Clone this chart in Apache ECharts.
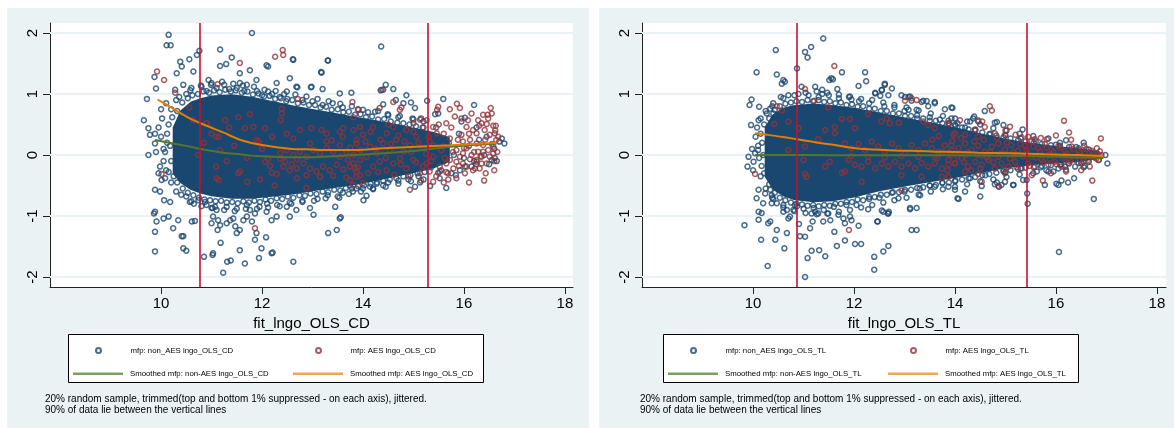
<!DOCTYPE html>
<html><head><meta charset="utf-8">
<script src="https://cdn.jsdelivr.net/npm/echarts@6/dist/echarts.min.js"></script>
<style>html,body{margin:0;padding:0;background:#fff}#c{width:1174px;height:428px}</style>
</head><body><div id="c"></div>
<script>
// ---------- tick labels / names ----------
const xTicks = [10, 12, 14, 16, 18];
const yTicks = [-2, -1, 0, 1, 2];
const cdTitle = 'fit_lngo_OLS_CD';
const tlTitle = 'fit_lngo_OLS_TL';
const cdNames = ['mfp: non_AES lngo_OLS_CD', 'mfp: AES lngo_OLS_CD', 'Smoothed mfp: non-AES lngo_OLS_CD', 'Smoothed mfp: AES lngo_OLS_CD'];
const tlNames = ['mfp: non_AES lngo_OLS_TL', 'mfp: AES lngo_OLS_TL', 'Smoothed mfp: non-AES lngo_OLS_TL', 'Smoothed mfp: AES lngo_OLS_TL'];
const noteLines = ['20% random sample, trimmed(top and bottom 1% suppressed - on each axis), jittered.', '90% of data lie between the vertical lines'];

// ---------- vertical lines (5th / 95th pct) ----------
const cdVLines = [10.77, 15.29];
const tlVLines = [10.87, 15.43];

// ---------- dense core of non-AES cloud (upper / lower edge) ----------
const cdCoreX  = [10.25, 10.4, 10.6, 10.8, 11.0, 11.4, 11.8, 12.2, 12.6, 13.0, 13.4, 13.8, 14.2, 14.6, 15.0, 15.4, 15.7];
const cdCoreHi = [0.45, 0.72, 0.86, 0.92, 0.96, 0.98, 0.94, 0.87, 0.8, 0.74, 0.68, 0.62, 0.56, 0.5, 0.43, 0.36, 0.28];
const cdCoreLo = [-0.3, -0.45, -0.56, -0.62, -0.66, -0.7, -0.7, -0.67, -0.63, -0.58, -0.53, -0.48, -0.42, -0.35, -0.28, -0.2, -0.1];
const tlCoreX  = [10.25, 10.4, 10.6, 10.8, 11.2, 11.6, 12.0, 12.5, 13.0, 13.5, 14.0, 14.5, 15.0, 15.5, 16.0, 16.5, 16.85];
const tlCoreHi = [0.45, 0.65, 0.76, 0.8, 0.83, 0.8, 0.76, 0.68, 0.6, 0.52, 0.44, 0.34, 0.25, 0.18, 0.13, 0.09, 0.05];
const tlCoreLo = [-0.35, -0.55, -0.66, -0.72, -0.76, -0.74, -0.68, -0.58, -0.5, -0.43, -0.36, -0.28, -0.2, -0.15, -0.12, -0.09, -0.05];

// ---------- CD panel: non-AES points ----------
const cdNonAES = [
[10.15,1.97],[10.11,1.8],[10.19,1.8],[10.76,1.71],[10.71,1.64],[11.17,1.73],[11.8,2.0],[10.56,1.57],[10.38,1.53],[10.41,1.45],[10.64,1.37],[10.31,1.34],[9.87,1.28],[9.9,1.09],[11.4,1.6],[11.17,1.46],[11.29,1.49],[11.56,1.34],[11.76,1.39],[12.09,1.47],[12.12,1.45],[12.62,1.56],[13.31,1.55],[13.18,1.35],[12.55,1.26],[11.89,1.23],[11.56,1.18],[11.7,1.15],[12.29,1.18],[12.68,1.12],[12.98,1.12],[13.54,1.01],[13.77,1.02],[12.49,1.04],[12.12,1.04],[10.94,1.23],[11.0,1.18],[10.44,1.15],[10.28,1.07],[9.72,0.92],[9.66,0.57],[9.75,0.44],[9.78,0.33],[9.88,0.35],[9.75,0.0],[9.88,0.19],[9.9,0.05],[9.98,-0.19],[10.08,-0.38],[10.01,-0.41],[9.88,-0.57],[9.98,-0.6],[10.06,-0.74],[10.18,-0.77],[9.88,-0.93],[9.86,-0.96],[9.91,-1.09],[10.05,-1.04],[10.15,-1.01],[9.88,-1.26],[9.88,-1.58],[10.24,-1.2],[10.34,-1.07],[10.41,-1.33],[10.44,-1.33],[10.44,-1.53],[10.5,-1.57],[10.61,-1.09],[10.67,-1.08],[10.57,-0.77],[10.74,-0.74],[10.87,-0.77],[11.0,-0.87],[11.07,-0.85],[11.0,-1.12],[11.13,-1.07],[11.03,-1.01],[11.12,-1.23],[11.17,-1.15],[10.85,-1.67],[11.02,-1.64],[11.03,-1.61],[11.18,-1.44],[11.23,-1.93],[11.31,-1.75],[11.38,-1.73],[11.56,-1.56],[11.66,-1.78],[11.3,-1.12],[11.37,-1.07],[11.43,-1.04],[11.47,-1.17],[11.5,-1.28],[11.56,-1.23],[11.63,-1.07],[11.7,-1.01],[11.8,-1.09],[11.89,-1.28],[11.86,-1.39],[11.94,-1.69],[11.99,-1.53],[12.08,-1.35],[12.19,-1.61],[12.21,-1.6],[12.09,-0.93],[12.19,-1.07],[12.29,-1.01],[12.62,-1.75],[12.95,-0.87],[13.02,-0.98],[13.31,-1.28],[13.48,-1.23],[13.54,-1.04],[12.49,-0.85],[12.68,-0.9],[11.76,-0.9],[11.86,-0.96],
[14.36,1.78],[14.4,1.07],[14.35,1.06],[14.45,1.15],[14.6,1.08],[14.86,0.98],[15.27,0.89],[15.59,0.92],[16.2,0.82],[14.4,0.83],[14.65,0.9],[14.8,0.85],[14.95,0.86],[15.03,0.77],[16.02,0.61],[16.75,0.27],[16.8,0.19],[14.01,-0.74],[14.07,-0.67],[15.33,-0.51],[15.65,-0.54],[15.13,-0.45],[15.03,-0.52],[15.92,-0.25],[15.84,-0.33],[16.02,-0.19],[16.15,-0.19],[16.24,-0.15],[16.55,-0.08],[16.61,-0.05],[15.52,-0.38],[15.49,-0.29],[15.43,0.67],[15.49,0.68],[14.4,-0.5],[14.27,-0.47],[14.14,-0.52],[13.87,-0.55],[13.74,-0.5],
[12.61,1.57],[13.3,1.55],[13.17,1.36],[12.7,1.11],[12.97,1.11],[13.2,1.08],[13.56,-1.02],[13.45,-0.85],[13.53,-0.7],[12.55,-1.01],
[10.2,0.75],[10.3,0.9],[10.5,1.0],[10.6,1.1],[10.8,1.12],[10.9,1.05],[11.1,1.1],[11.25,1.15],[11.35,1.08],[11.5,1.1],[11.65,1.05],[11.9,1.05],[12.0,0.98],[12.2,1.0],[12.35,0.95],[12.5,0.92],[12.8,0.9],[13.0,0.88],[13.2,0.82],[13.4,0.85],[13.6,0.78],[13.9,0.75],[14.1,0.7],[14.3,0.72],[14.5,0.65],[14.7,0.62],[15.0,0.58],[15.2,0.55],
[10.2,-0.45],[10.3,-0.6],[10.5,-0.68],[10.65,-0.8],[10.9,-0.82],[11.1,-0.9],[11.3,-0.85],[11.5,-0.88],[11.7,-0.82],[11.95,-0.85],[12.1,-0.8],[12.3,-0.82],[12.55,-0.78],[12.8,-0.75],[13.1,-0.72],[13.3,-0.66],[13.6,-0.62],[13.8,-0.6],[14.0,-0.55],[14.2,-0.55],[14.5,-0.45],[14.7,-0.42],[14.9,-0.4],[15.1,-0.35],
[9.95,0.45],[10.0,0.3],[10.02,0.6],[10.05,0.1],[10.05,-0.1],[10.1,-0.25],[10.0,0.75],[10.1,0.85],[9.95,-0.3],[10.12,0.2],
[15.4,0.3],[15.5,0.1],[15.6,-0.1],[15.7,0.2],[15.8,0.0],[15.9,0.35],[16.0,-0.05],[16.1,0.15],[16.2,-0.1],[16.3,0.25],[16.4,0.0],[16.5,-0.15],[16.6,0.1],[15.45,0.45],[15.55,-0.25],[15.75,-0.3],[15.95,0.55],[16.25,0.45],[16.45,0.3],[16.7,0.22],[16.65,-0.1],[15.35,-0.2],
[10.32,0.72],[10.42,0.86],[10.53,0.93],[10.62,0.98],[10.73,1.0],[10.84,1.04],[10.95,1.02],[11.05,1.06],[11.16,1.03],[11.27,1.07],[11.38,1.04],[11.48,1.06],[11.6,1.02],[11.71,1.04],[11.82,0.99],[11.93,1.01],[12.04,0.96],[12.15,0.97],[12.26,0.92],[12.37,0.93],[12.48,0.88],[12.6,0.9],[12.71,0.85],[12.82,0.86],[12.93,0.82],[13.05,0.82],[13.16,0.78],[13.27,0.79],[13.38,0.74],[13.5,0.75],[13.61,0.7],[13.72,0.71],[13.84,0.66],[13.95,0.67],[14.06,0.62],[14.18,0.63],[14.3,0.58],[14.42,0.59],[14.55,0.55],[14.68,0.53],[14.8,0.52],[14.92,0.5],[15.05,0.47],[15.18,0.45],
[10.36,0.95],[10.58,1.06],[10.79,1.14],[10.99,1.15],[11.21,1.2],[11.43,1.17],[11.62,1.14],[11.84,1.12],[12.05,1.07],[12.27,1.05],[12.44,1.0],[12.66,0.99],[12.88,0.96],[13.1,0.92],[13.32,0.88],[13.55,0.84],[13.78,0.8],[14.0,0.74],[14.24,0.71],[14.49,0.67],[14.73,0.64],[14.98,0.6],[15.15,0.6],
[10.32,-0.45],[10.43,-0.55],[10.53,-0.62],[10.64,-0.66],[10.75,-0.7],[10.86,-0.73],[10.97,-0.74],[11.08,-0.76],[11.19,-0.75],[11.3,-0.78],[11.41,-0.77],[11.52,-0.79],[11.63,-0.76],[11.74,-0.78],[11.85,-0.75],[11.96,-0.77],[12.07,-0.73],[12.18,-0.75],[12.29,-0.71],[12.4,-0.72],[12.51,-0.68],[12.62,-0.7],[12.74,-0.66],[12.85,-0.67],[12.96,-0.63],[13.08,-0.64],[13.2,-0.6],[13.31,-0.61],[13.43,-0.57],[13.55,-0.58],[13.66,-0.54],[13.78,-0.55],[13.9,-0.51],[14.02,-0.5],[14.15,-0.47],[14.28,-0.45],[14.4,-0.42],[14.53,-0.4],[14.66,-0.38],[14.8,-0.35],[14.94,-0.33],[15.08,-0.3],[15.22,-0.28],
[10.4,-0.65],[10.6,-0.76],[10.8,-0.84],[11.02,-0.87],[11.25,-0.9],[11.46,-0.92],[11.68,-0.88],[11.9,-0.88],[12.12,-0.86],[12.35,-0.84],[12.58,-0.8],[12.8,-0.77],[13.03,-0.75],[13.26,-0.71],[13.5,-0.68],[13.72,-0.64],[13.96,-0.6],[14.2,-0.56],[14.45,-0.52],[14.7,-0.47],[14.95,-0.43],[15.2,-0.4],
[10.12,0.35],[10.15,0.5],[10.18,0.15],[10.2,-0.1],[10.15,-0.28],[10.22,0.62],[10.25,-0.35],[10.08,0.05]
];

// ---------- CD panel: AES points ----------
const cdAES = [
[9.92,1.37],[10.06,1.23],[10.28,1.02],[10.01,-0.31],[11.56,1.51],[12.26,1.61],[12.41,1.72],[12.42,1.64],[11.12,1.16],[10.56,0.78],[12.71,0.92],[13.79,0.87],[13.91,0.74],[12.39,0.76],[12.39,0.68],[12.37,0.57],[10.9,0.52],[10.64,0.57],[11.14,0.3],[11.09,0.3],[11.17,0.08],[10.74,0.0],[11.0,0.35],[11.27,0.57],[11.53,0.62],[11.66,0.44],[11.76,0.67],[11.83,0.46],[12.06,0.44],[12.49,0.35],[12.62,0.27],[12.75,0.41],[12.98,0.44],[13.18,0.41],[13.28,0.35],[13.38,0.24],[13.54,0.38],[13.61,0.44],[11.89,0.24],[11.93,0.22],[13.81,0.62],[13.94,0.46],[11.09,-0.19],[11.1,-0.38],[11.14,-0.41],[11.56,-0.27],[11.53,-0.3],[11.71,-0.44],[11.96,-0.4],[11.86,-1.2],[12.19,-0.29],[12.29,-0.31],[12.12,-0.06],[12.16,-0.18],[12.06,-0.11],[12.36,-0.06],[12.46,-0.11],[12.59,-0.15],[12.69,-0.07],[12.69,-0.38],[12.88,-0.54],[13.81,-0.49],
[12.36,0.03],[12.49,0.08],[12.62,0.0],[12.75,0.055],[12.88,-0.03],[13.02,0.08],[13.15,0.03],[13.28,0.11],[13.41,0.055],[13.54,-0.03],[13.67,0.055],[13.81,0.0],[13.94,0.08],[12.42,-0.19],[12.55,-0.25],[12.69,-0.22],[12.82,-0.14],[12.95,-0.22],[13.08,-0.27],[13.21,-0.19],[13.34,-0.25],[13.48,-0.16],[13.61,-0.235],[13.74,-0.19],[13.87,-0.27],[12.88,-0.33],[13.15,-0.355],[13.41,-0.34],[13.67,-0.37],[13.94,-0.33],[12.95,0.19],[13.28,0.22],[13.54,0.16],[13.87,0.19],
[10.85,0.2],[11.3,-0.1],[11.45,0.15],[11.7,-0.05],[12.0,0.1],[12.2,0.3],[11.35,0.45],[12.25,-0.5],
[14.37,1.07],[14.33,0.77],[14.6,0.87],[14.73,0.74],[14.76,0.78],[15.13,0.58],[15.49,0.79],[15.47,0.74],[15.72,0.75],[15.86,0.84],[15.92,0.77],[15.82,0.63],[16.53,0.77],[16.55,0.68],[16.47,0.66],[16.38,0.66],[16.28,0.57],[16.35,0.52],[16.45,0.51],[16.58,0.48],[16.63,0.48],
[16.08,0.57],[16.05,0.46],[16.18,0.41],[16.25,0.355],[16.41,0.41],[16.51,0.33],[16.61,0.355],[16.64,0.246],[16.58,0.137],[16.48,0.082],[16.38,0.164],[16.28,0.055],[16.15,0.0],[16.05,0.11],[15.98,0.22],[15.95,0.33],[16.51,-0.027],[16.58,0.027],[16.35,-0.027],[16.25,-0.08],
[14.93,-0.57],[15.39,-0.44],[15.69,-0.4],[15.65,-0.28],[15.32,-0.27],[15.19,-0.19],[15.52,-0.19],[15.72,-0.08],[15.85,-0.11],[15.98,-0.14],[16.12,-0.07],[16.25,-0.11],[16.35,-0.14],
[13.74,-0.41],[13.87,-0.355],[14.0,-0.46],[13.84,-0.22],[13.81,-0.14],
[13.87,0.25],[14.0,0.33],[14.14,0.14],[14.27,0.03],[14.4,0.19],[14.53,0.08],[14.66,0.25],[14.8,0.055],[14.93,0.16],[15.06,0.3],[15.19,0.11],[15.32,0.22],[15.46,0.355],[15.59,0.14],[15.72,0.27],[15.85,0.08],[15.98,0.03],[16.12,0.25],[16.25,0.19],[16.38,0.055],
[13.94,-0.08],[14.07,-0.03],[14.2,-0.19],[14.33,-0.11],[14.47,-0.25],[14.6,-0.14],[14.73,-0.055],[14.86,-0.22],[15.0,-0.08],[15.13,-0.3],[15.26,-0.14],[15.39,-0.03],[15.52,-0.27],[15.65,-0.14],[15.79,-0.22],[15.92,-0.03],[16.05,-0.19],[16.18,-0.25],[16.31,-0.22],[16.45,-0.14],
[13.81,0.41],[14.2,0.46],[14.6,0.46],[15.0,0.52],[15.39,0.46],[15.65,0.52],[15.26,0.57],[14.86,0.41],[14.47,0.355],
[13.6,0.3],[13.7,-0.08],[13.75,0.12],[13.9,-0.2],[14.05,0.22],[14.1,-0.3],[14.15,0.38],[14.25,0.1],[14.3,-0.28],[14.35,0.25],[14.45,-0.05],[14.5,0.5],[14.55,0.18],[14.62,-0.32],[14.7,0.32],[14.75,-0.15],[14.82,0.22],[14.9,-0.35],[14.95,0.05],[15.0,0.38],[15.05,-0.12],[15.1,0.2],[15.15,-0.42],[15.2,0.45],[15.25,0.02],[15.3,0.3],[15.35,-0.1],[15.4,0.15],[15.45,-0.35],[15.5,0.5],[15.55,0.08],[15.6,0.35],[15.62,-0.05],[15.68,-0.3],[15.75,0.45],[15.78,0.05],[15.88,0.25],[15.9,-0.18],[15.95,0.6],[16.0,0.12],[16.02,-0.3],[16.1,0.35],[16.15,0.68],[16.2,0.05],[16.22,-0.22],[16.3,0.48],[16.33,-0.02],[16.42,0.25],[16.43,-0.3],[16.48,0.6],[16.55,0.18],[16.6,-0.1],[16.62,0.4],[16.66,0.05],[16.68,0.3],[16.4,-0.42],[16.6,-0.25],[16.1,-0.45],[15.85,-0.38],[15.6,-0.45]
];

// ---------- CD panel: smoothed curves ----------
const cdSmoothNonX = [9.88, 10.24, 10.57, 10.9, 11.23, 11.56, 11.89, 12.22, 12.55, 12.88, 13.21, 13.54, 13.94, 14.4, 15.06, 15.72, 16.65];
const cdSmoothNonY = [0.246, 0.19, 0.137, 0.082, 0.038, 0.011, -0.016, -0.027, -0.038, -0.038, -0.027, -0.016, 0.005, 0.027, 0.07, 0.137, 0.19];
const cdSmoothAESX = [9.93, 10.24, 10.57, 10.9, 11.23, 11.56, 11.89, 12.22, 12.55, 12.88, 13.21, 13.54, 13.87, 14.4, 15.06, 15.72, 16.65];
const cdSmoothAESY = [0.91, 0.76, 0.6, 0.48, 0.37, 0.25, 0.18, 0.137, 0.104, 0.093, 0.082, 0.082, 0.08, 0.11, 0.137, 0.16, 0.2];

// ---------- TL panel: non-AES points ----------
const tlNonAES = [
[11.39,1.91],[10.45,1.72],[11.15,1.77],[11.03,1.69],[11.08,1.6],[10.07,1.355],[10.87,1.42],[10.47,1.32],[11.76,1.355],[11.55,1.26],[11.51,1.23],[11.58,1.24],[10.6,1.23],[10.63,1.2],[10.57,1.17],[12.22,1.355],[12.24,1.21],[12.09,1.13],[12.42,1.02],[12.55,1.07],[12.61,1.15],[12.68,0.98],[12.52,0.97],[11.95,0.91],[11.67,1.08],[11.37,1.07],[11.37,1.0],[10.96,1.12],[11.23,1.12],[9.97,0.91],[9.93,0.82],[10.12,0.79],[9.96,0.49],[10.11,0.57],[10.34,0.76],[10.27,0.68],[10.4,0.68],[12.94,0.98],[13.08,0.95],[13.34,0.87],[13.44,0.885],[13.6,0.85],[13.08,0.74],[13.24,0.74],[13.47,0.8],[13.8,0.75],[13.93,0.78],[9.91,-0.03],[9.89,-0.19],[10.01,-0.11],[10.04,0.03],[9.83,-1.15],[10.07,-0.71],[10.11,-0.57],[10.11,-0.93],[10.17,-0.95],[10.11,-1.06],[10.24,-0.63],[10.34,-0.57],[10.37,-0.66],[10.2,-0.79],[10.37,-0.79],[10.47,-0.79],[10.3,-1.12],[10.34,-1.09],[10.16,-1.39],[10.29,-1.82],[10.44,-1.39],[10.47,-1.23],[10.62,-1.53],[10.67,-1.28],[10.7,-1.04],[10.73,-1.01],[10.6,-0.93],[10.67,-0.9],[10.83,-0.82],[10.87,-0.84],[10.91,-1.13],[10.93,-1.33],[11.03,-1.34],[11.03,-2.0],[11.08,-1.69],[11.16,-1.57],[11.16,-0.96],[11.23,-0.93],[11.29,-0.96],[11.39,-1.09],[11.53,-1.07],[11.49,-0.96],[11.18,-1.09],[11.13,-1.2],[11.31,-1.56],[11.43,-1.66],[11.61,-1.26],[11.66,-1.49],[11.82,-1.4],[11.69,-0.98],[11.79,-1.04],[11.92,-1.01],[11.82,-1.12],[11.95,-1.07],[12.09,-1.16],[12.02,-1.46],[12.14,-1.46],[12.28,-0.89],[12.4,-1.67],[12.4,-1.88],[12.47,-1.09],[12.58,-1.58],[12.68,-1.49],[12.55,-0.91],[12.67,-0.96],[12.69,-0.93],[12.88,-0.71],[13.11,-0.87],[13.24,-0.87],[13.14,-1.23],[13.24,-1.23],[13.6,-0.52],[13.87,-0.52],
[12.46,-1.09],[12.58,-0.93],[12.68,-0.96],[13.11,-0.89],[13.31,-0.66],[14.07,-0.72],[14.5,-0.68],[15.43,-0.63],[15.44,-0.8],[16.06,-1.59],[16.75,-0.72],[17.02,-0.14],[16.98,0.0],[16.01,-0.47],[16.24,-0.45],[16.36,-0.38],[15.35,-0.41],[15.15,-0.49],[14.92,-0.49],[14.99,-0.44],[14.83,-0.45],[12.61,1.17],[12.55,1.06],[12.75,1.09],[12.42,1.01],[13.01,0.95],[13.11,0.96],[13.37,0.89],[13.6,0.87],[13.14,0.89],[14.38,0.63],[14.59,0.72],[15.34,0.42],[14.96,0.49],[14.83,0.54],[13.87,0.56],[14.05,0.52],
[13.95,0.77],[13.93,0.6],[14.3,0.55],[14.36,0.6],[14.46,0.55],[14.79,0.53],[16.08,0.2],[14.05,-0.71],[14.2,-0.6],[14.0,-0.57],[14.53,-0.51],[14.79,-0.48],[14.87,-0.52],[15.16,-0.49],[15.42,-0.41],[15.78,-0.49],[16.05,-0.49],[16.11,-0.42],[15.62,-0.27],[15.81,-0.25],[15.95,-0.27],[16.05,-0.22],[16.18,-0.19],[16.38,-0.19],[16.57,-0.18],
[10.25,0.72],[10.4,0.85],[10.55,0.95],[10.7,0.98],[10.9,1.0],[11.1,0.98],[11.3,0.95],[11.5,0.98],[11.7,0.93],[11.9,0.95],[12.1,0.88],[12.3,0.85],[12.6,0.8],[12.8,0.78],[13.0,0.72],[13.25,0.65],[13.5,0.62],[13.7,0.58],[14.0,0.5],[14.2,0.45],[14.4,0.42],[14.7,0.35],[15.0,0.32],[15.3,0.27],[15.6,0.22],[16.0,0.17],[16.4,0.13],
[10.25,-0.55],[10.4,-0.72],[10.6,-0.82],[10.8,-0.9],[11.0,-0.88],[11.2,-0.87],[11.4,-0.9],[11.6,-0.85],[11.85,-0.82],[12.05,-0.82],[12.3,-0.72],[12.5,-0.7],[12.75,-0.62],[13.0,-0.6],[13.3,-0.55],[13.5,-0.5],[13.75,-0.45],[14.0,-0.43],[14.3,-0.38],[14.6,-0.33],[15.0,-0.28],[15.3,-0.22],[15.7,-0.2],[16.1,-0.15],[16.5,-0.13],[16.85,-0.08],
[10.05,0.3],[10.1,0.15],[10.0,-0.25],[10.15,-0.35],[10.08,0.45],[10.15,0.6],[9.98,0.1],[10.12,-0.05],
[10.32,0.6],[10.43,0.74],[10.53,0.8],[10.64,0.84],[10.75,0.86],[10.86,0.88],[10.97,0.87],[11.08,0.9],[11.19,0.88],[11.3,0.9],[11.41,0.87],[11.52,0.88],[11.63,0.85],[11.74,0.86],[11.85,0.82],[11.96,0.83],[12.07,0.79],[12.18,0.8],[12.3,0.76],[12.41,0.76],[12.53,0.72],[12.65,0.72],[12.77,0.68],[12.89,0.68],[13.01,0.64],[13.13,0.64],[13.25,0.6],[13.37,0.6],[13.5,0.56],[13.62,0.56],[13.75,0.52],[13.88,0.51],[14.01,0.48],[14.14,0.45],[14.27,0.42],[14.4,0.4],[14.54,0.37],[14.68,0.34],[14.82,0.32],[14.96,0.29],[15.1,0.27],[15.25,0.24],[15.4,0.22],[15.56,0.2],[15.72,0.18],[15.9,0.16],[16.08,0.15],[16.26,0.13],[16.45,0.11],[16.65,0.09],
[10.38,0.8],[10.6,0.93],[10.82,0.98],[11.04,1.02],[11.26,1.04],[11.47,1.02],[11.7,0.99],[11.92,0.96],[12.14,0.92],[12.36,0.9],[12.58,0.86],[12.8,0.82],[13.04,0.78],[13.28,0.73],[13.52,0.68],[13.76,0.64],[14.0,0.6],[14.24,0.55],[14.5,0.5],[14.76,0.44],[15.02,0.4],[15.28,0.35],[15.55,0.31],[15.85,0.27],[16.2,0.24],[16.55,0.2],
[10.32,-0.48],[10.43,-0.62],[10.53,-0.7],[10.64,-0.74],[10.75,-0.78],[10.86,-0.8],[10.97,-0.81],[11.08,-0.83],[11.19,-0.82],[11.3,-0.84],[11.41,-0.82],[11.52,-0.83],[11.63,-0.8],[11.74,-0.8],[11.85,-0.77],[11.96,-0.77],[12.07,-0.73],[12.18,-0.74],[12.3,-0.69],[12.41,-0.69],[12.53,-0.65],[12.65,-0.65],[12.77,-0.61],[12.89,-0.61],[13.01,-0.57],[13.13,-0.57],[13.25,-0.54],[13.37,-0.53],[13.5,-0.5],[13.62,-0.49],[13.75,-0.46],[13.88,-0.45],[14.01,-0.42],[14.14,-0.4],[14.27,-0.38],[14.4,-0.36],[14.54,-0.33],[14.68,-0.31],[14.82,-0.29],[14.96,-0.27],[15.1,-0.25],[15.25,-0.23],[15.4,-0.21],[15.56,-0.2],[15.72,-0.18],[15.9,-0.17],[16.08,-0.16],[16.26,-0.14],[16.45,-0.13],[16.65,-0.11],
[10.38,-0.7],[10.6,-0.86],[10.82,-0.92],[11.04,-0.95],[11.26,-0.97],[11.47,-0.96],[11.7,-0.93],[11.92,-0.9],[12.14,-0.86],[12.36,-0.82],[12.58,-0.78],[12.8,-0.74],[13.04,-0.7],[13.28,-0.65],[13.52,-0.6],[13.76,-0.56],[14.0,-0.52],[14.24,-0.48],[14.5,-0.43],[14.76,-0.4],[15.02,-0.36],[15.28,-0.32],[15.55,-0.3],[15.85,-0.27],[16.2,-0.24],[16.55,-0.2],
[10.15,0.35],[10.18,0.2],[10.2,0.0],[10.17,-0.18],[10.22,-0.3],[10.22,0.5],[10.1,0.08]
];

// ---------- TL panel: AES points ----------
const tlAES = [
[11.61,1.46],[11.03,1.08],[11.21,0.89],[10.47,0.8],[10.57,0.73],[10.42,0.51],[11.49,0.78],[10.7,0.55],[10.9,0.44],[11.03,0.14],[11.0,-0.08],[11.06,-0.355],[11.03,-0.31],[10.04,-0.31],[10.7,0.08],[11.29,0.26],[11.43,0.41],[11.62,0.46],[11.76,0.59],[11.92,0.59],[12.02,0.44],[11.43,-0.19],[11.52,-0.11],[11.62,0.36],[11.76,-0.29],[11.82,-0.27],[12.15,-0.44],[11.9,-1.23],[12.28,0.67],[12.54,0.55],[12.65,0.6],[12.71,0.52],[12.89,0.53],[13.01,0.89],[13.14,0.93],[13.24,0.9],[13.37,0.55],[13.47,0.49],[13.6,0.44],[13.68,0.31],[13.87,0.52],[13.97,0.33],
[11.82,0.19],[11.95,0.11],[12.09,0.18],[12.22,0.08],[12.35,0.22],[12.48,0.14],[12.61,0.055],[12.75,0.19],[12.88,0.11],[13.01,0.03],[13.14,0.16],[13.27,0.08],[13.41,0.19],[13.54,0.11],[13.67,0.055],[13.8,0.16],[13.93,0.08],
[11.89,-0.08],[12.02,-0.16],[12.15,-0.19],[12.28,-0.11],[12.42,-0.22],[12.55,-0.14],[12.68,-0.19],[12.81,-0.11],[12.94,-0.19],[13.08,-0.14],[13.21,-0.22],[13.34,-0.13],[13.47,-0.19],[13.6,-0.14],[13.74,-0.22],[13.87,-0.16],[14.0,-0.13],
[11.95,-0.016],[12.28,-0.03],[12.61,-0.04],[12.94,-0.016],[13.27,-0.03],[13.6,-0.04],[13.93,0.0],[12.94,-0.33],[13.34,-0.355],[13.74,-0.355],[12.94,-0.58],[13.87,-0.355],
[14.69,0.8],[14.73,0.73],[14.46,0.57],[14.54,0.55],[14.1,0.57],[13.88,0.52],[15.09,0.465],[14.53,-0.44],[14.86,-0.51],[16.16,0.56],[16.26,0.37],[16.89,0.27],[16.72,-0.42],[15.74,-0.42],[15.82,0.26],[16.56,0.15],[16.81,0.11],[16.84,-0.08],[16.67,-0.19],
[13.93,0.16],[14.07,0.11],[14.2,0.19],[14.33,0.08],[14.46,0.15],[14.59,0.055],[14.73,0.14],[14.86,0.19],[14.99,0.09],[15.12,0.16],[15.25,0.07],[15.39,0.15],[15.52,0.22],[15.65,0.11],[15.78,0.18],[15.91,0.08],[16.05,0.15],[16.18,0.07],[16.31,0.14],[16.44,0.08],[16.57,0.03],[16.71,0.07],[16.84,0.0],
[13.87,-0.08],[14.0,-0.14],[14.13,-0.05],[14.26,-0.19],[14.4,-0.11],[14.53,-0.16],[14.66,-0.08],[14.79,-0.22],[14.92,-0.14],[15.06,-0.19],[15.19,-0.11],[15.32,-0.22],[15.45,-0.14],[15.58,-0.19],[15.72,-0.08],[15.85,-0.16],[15.98,-0.11],[16.11,-0.19],[16.24,-0.13],[16.38,-0.08],[16.51,-0.14],[16.64,-0.08],[16.77,-0.04],
[13.9,0.03],[14.2,0.0],[14.53,-0.016],[14.86,-0.03],[15.19,0.0],[15.52,-0.03],[15.85,0.0],[16.18,-0.03],[16.51,-0.016],[16.9,0.0],[14.99,-0.3],[15.52,-0.33],[14.46,-0.31],[14.2,-0.27],
[14.4,0.41],[14.59,0.46],[14.79,0.355],[14.99,0.33],[14.46,0.3],[14.2,0.33],[14.0,0.355],[15.32,0.29],[15.58,0.26],
[13.55,0.25],[13.65,-0.05],[13.75,0.05],[13.85,-0.25],[13.95,0.23],[14.05,-0.02],[14.12,0.28],[14.18,-0.12],[14.25,0.04],[14.32,-0.25],[14.38,0.22],[14.45,0.0],[14.5,-0.22],[14.57,0.25],[14.63,-0.04],[14.7,0.05],[14.76,-0.12],[14.83,0.28],[14.9,0.02],[14.96,-0.24],[15.03,0.2],[15.09,-0.06],[15.16,0.04],[15.22,-0.2],[15.29,0.18],[15.35,-0.02],[15.42,0.08],[15.48,-0.18],[15.55,0.14],[15.61,-0.04],[15.68,0.06],[15.75,-0.12],[15.81,0.12],[15.88,-0.06],[15.95,0.05],[16.01,-0.15],[16.08,0.12],[16.14,-0.05],[16.21,0.02],[16.28,-0.1],[16.34,0.1],[16.41,-0.02],[16.47,0.05],[16.54,-0.1],[16.6,0.1],[16.68,-0.02],[16.74,0.04],[16.8,-0.06],[16.87,0.06],[15.0,0.4],[15.2,0.33],[15.45,0.3],[15.7,0.28],[16.0,0.32],[16.3,0.25],[15.9,-0.3],[16.2,-0.27],[16.5,-0.25]
];

// ---------- TL panel: smoothed curves ----------
const tlSmoothNonX = [10.04, 11.0, 12.0, 13.0, 14.0, 15.0, 15.78, 16.4, 16.94];
const tlSmoothNonY = [0.0, 0.0, -0.005, -0.005, -0.005, -0.012, -0.025, -0.035, -0.05];
const tlSmoothAESX = [10.04, 10.3, 10.63, 10.96, 11.29, 11.62, 11.95, 12.28, 12.61, 12.94, 13.27, 13.6, 14.0, 14.46, 15.12, 15.78, 16.44, 16.94];
const tlSmoothAESY = [0.355, 0.33, 0.29, 0.246, 0.2, 0.164, 0.12, 0.093, 0.082, 0.071, 0.066, 0.055, 0.05, 0.038, 0.027, 0.011, 0.0, -0.016];

// ---------- styling ----------
const NAVY = '#1a476f', MAROON = '#90353b', GREEN = '#55752f', ORANGE = '#e37e00', VLINE = '#c8102e';
const BG = '#eaf2f3', AX = '#222', F = '"Liberation Sans", Arial, sans-serif';

const panels = [
  { title: cdTitle, names: cdNames, non: cdNonAES, aes: cdAES, coreX: cdCoreX, coreHi: cdCoreHi, coreLo: cdCoreLo,
    snX: cdSmoothNonX, snY: cdSmoothNonY, saX: cdSmoothAESX, saY: cdSmoothAESY, vl: cdVLines,
    grid: { left: 50, top: 23, width: 523, height: 264 }, xmax: 18.16,
    bg: [7, 8, 582, 420], legBox: [68.5, 334.5, 415, 48], legCols: [73, 293], legDot: [95, 315], note: [45, 394] },
  { title: tlTitle, names: tlNames, non: tlNonAES, aes: tlAES, coreX: tlCoreX, coreHi: tlCoreHi, coreLo: tlCoreLo,
    snX: tlSmoothNonX, snY: tlSmoothNonY, saX: tlSmoothAESX, saY: tlSmoothAESY, vl: tlVLines,
    grid: { left: 642, top: 23, width: 524, height: 264 }, xmax: 18.18,
    bg: [599, 8, 575, 420], legBox: [663.5, 334.5, 415, 48], legCols: [668, 888], legDot: [690, 910], note: [640, 394] }
];

const option = { animation: false, backgroundColor: '#fff', grid: [], xAxis: [], yAxis: [], series: [], legend: [], graphic: [] };

panels.forEach((p, i) => {
  option.grid.push(Object.assign({ show: true, backgroundColor: '#fff', borderWidth: 0, containLabel: false }, p.grid));
  option.xAxis.push({
    gridIndex: i, type: 'value', min: 7.8, max: p.xmax,
    name: p.title, nameLocation: 'middle', nameGap: 23,
    nameTextStyle: { fontSize: 15, color: '#000', fontFamily: F },
    axisLine: { show: true, onZero: false, lineStyle: { color: AX, width: 1 } },
    axisTick: { show: true, length: 7, customValues: xTicks, lineStyle: { color: AX } },
    axisLabel: { customValues: xTicks, fontSize: 15, color: '#000', margin: 9, fontFamily: F },
    splitLine: { show: false }
  });
  option.yAxis.push({
    gridIndex: i, type: 'value', min: -2.164, max: 2.164,
    axisLine: { show: true, onZero: false, lineStyle: { color: AX, width: 1 } },
    axisTick: { show: true, length: 7, customValues: yTicks, lineStyle: { color: AX } },
    axisLabel: { customValues: yTicks, rotate: 90, fontSize: 15, color: '#000', margin: 10, fontFamily: F },
    splitLine: { show: false }
  });
  // gridlines
  option.series.push({
    type: 'line', xAxisIndex: i, yAxisIndex: i, data: [], silent: true, z: 1,
    markLine: { silent: true, z: 1, symbol: 'none', label: { show: false }, animation: false,
      lineStyle: { color: BG, width: 2, type: 'solid' }, data: yTicks.map(v => ({ yAxis: v })) }
  });
  // dense core of the non-AES cloud
  option.series.push({
    type: 'custom', xAxisIndex: i, yAxisIndex: i, silent: true, z: 2, data: [[p.coreX[0], p.coreHi[0]]],
    renderItem: (params, api) => {
      const pts = [];
      for (let k = 0; k < p.coreX.length; k++) pts.push(api.coord([p.coreX[k], p.coreHi[k]]));
      for (let k = p.coreX.length - 1; k >= 0; k--) pts.push(api.coord([p.coreX[k], p.coreLo[k]]));
      return { type: 'polygon', shape: { points: pts }, style: { fill: NAVY, stroke: NAVY, lineWidth: 2, lineJoin: 'round' } };
    }
  });
  option.series.push({
    name: p.names[0], type: 'scatter', xAxisIndex: i, yAxisIndex: i, data: p.non, z: 3, silent: true,
    symbol: 'circle', symbolSize: 5, itemStyle: { color: 'rgba(0,0,0,0)', borderColor: NAVY, borderWidth: 1.5 }
  });
  option.series.push({
    name: p.names[1], type: 'scatter', xAxisIndex: i, yAxisIndex: i, data: p.aes, z: 4, silent: true,
    symbol: 'circle', symbolSize: 5, itemStyle: { color: 'rgba(0,0,0,0)', borderColor: MAROON, borderWidth: 1.5 }
  });
  option.series.push({
    name: p.names[2], type: 'line', xAxisIndex: i, yAxisIndex: i, z: 5, silent: true, symbol: 'none', smooth: 0.3,
    data: p.snX.map((x, k) => [x, p.snY[k]]), lineStyle: { color: GREEN, width: 2 }, itemStyle: { color: GREEN }
  });
  option.series.push({
    name: p.names[3], type: 'line', xAxisIndex: i, yAxisIndex: i, z: 6, silent: true, symbol: 'none', smooth: 0.3,
    data: p.saX.map((x, k) => [x, p.saY[k]]), lineStyle: { color: ORANGE, width: 2 }, itemStyle: { color: ORANGE }
  });
  // vertical percentile lines
  option.series.push({
    type: 'line', xAxisIndex: i, yAxisIndex: i, data: [], silent: true, z: 7,
    markLine: { silent: true, z: 7, symbol: 'none', label: { show: false }, animation: false,
      lineStyle: { color: VLINE, width: 1.6, type: 'solid' }, data: p.vl.map(v => ({ xAxis: v })) }
  });
  // legends (one component per entry)
  const rowCenters = [349, 371];
  const legendColors = ['#7f9f62', '#f0a64c'];
  p.names.forEach((nm, k) => {
    const isLine = k >= 2;
    const ih = isLine ? 2.5 : 5;
    const l = {
      data: [nm], left: isLine ? p.legCols[k % 2] : p.legDot[k % 2], top: rowCenters[Math.floor(k / 2)] - ih / 2, orient: 'horizontal',
      itemWidth: 50, itemHeight: ih, itemGap: 0, padding: 0, selectedMode: false, z: 6,
      textStyle: { fontSize: 7.8, color: '#000', fontFamily: F, padding: [0, 0, 0, 2] }
    };
    if (isLine) { l.icon = 'rect'; l.itemStyle = { color: legendColors[k - 2], borderWidth: 0 }; }
    option.legend.push(l);
  });
  // panel background, legend box, note
  option.graphic.push({ type: 'rect', z: -10, silent: true, shape: { x: p.bg[0], y: p.bg[1], width: p.bg[2], height: p.bg[3] }, style: { fill: BG } });
  option.graphic.push({ type: 'rect', z: 3, silent: true, shape: { x: p.legBox[0], y: p.legBox[1], width: p.legBox[2], height: p.legBox[3] }, style: { fill: '#fff', stroke: '#000', lineWidth: 1 } });
  option.graphic.push({ type: 'text', z: 3, silent: true, x: p.note[0], y: p.note[1],
    style: { text: noteLines.join('\n'), fontSize: 10, lineHeight: 11, fill: '#000', fontFamily: F } });
});

const chart = echarts.init(document.getElementById('c'), null, { renderer: 'canvas' });
chart.setOption(option);
</script>
</body></html>
